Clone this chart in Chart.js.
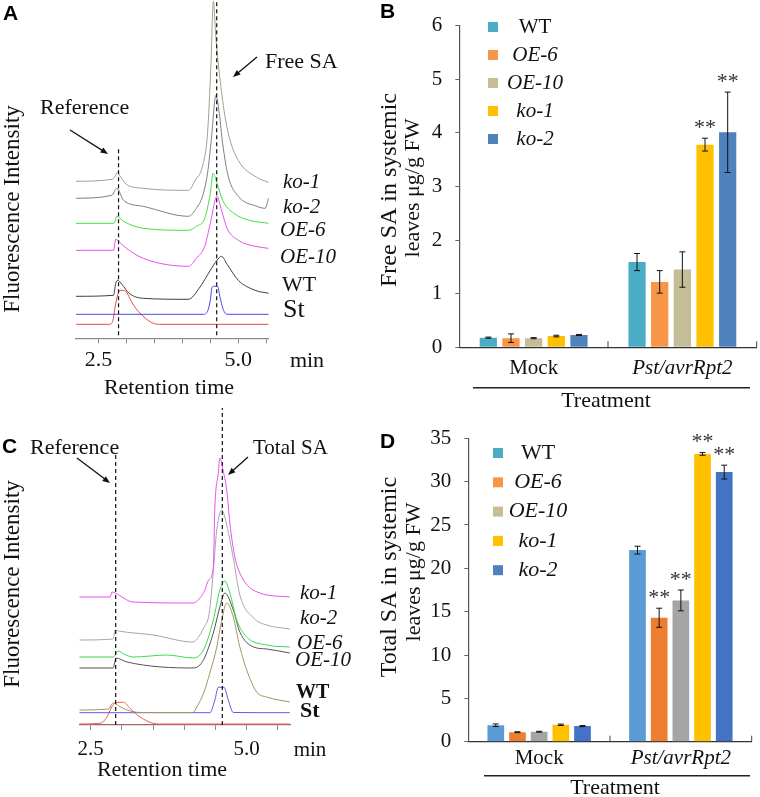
<!DOCTYPE html>
<html>
<head>
<meta charset="utf-8">
<title>SA levels</title>
<script src="https://cdn.jsdelivr.net/npm/chart.js@4.4.1/dist/chart.umd.min.js"></script>
<style>
  html, body { margin: 0; padding: 0; background: #fff; }
  #fig { position: relative; width: 760px; height: 797px; overflow: hidden; }
  canvas { position: absolute; }
</style>
</head>
<body>
<div id="fig">
  <canvas id="cA" width="380" height="400" style="left:0;top:0"></canvas>
  <canvas id="cB" width="380" height="415" style="left:380px;top:0"></canvas>
  <canvas id="cC" width="380" height="397" style="left:0;top:400px"></canvas>
  <canvas id="cD" width="380" height="397" style="left:380px;top:400px"></canvas>
</div>
<script>
// === Dados ===
const genotypes = ['WT', 'OE-6', 'OE-10', 'ko-1', 'ko-2'];
const treatments = ['Mock', 'Pst/avrRpt2'];

// free SA, ug/g FW  [mock, pst]
const freeMean = [[0.18, 1.59], [0.17, 1.22], [0.17, 1.45], [0.21, 3.78], [0.23, 4.01]];
const freeErr  = [[0.01, 0.16], [0.08, 0.21], [0.01, 0.33], [0.015, 0.12], [0.01, 0.75]];
const freeSig  = [['', ''], ['', ''], ['', ''], ['', '**'], ['', '**']];
const freeTicks = [0, 1, 2, 3, 4, 5, 6];

// total SA, ug/g FW  [mock, pst]
const totalMean = [[1.9, 22.1], [1.1, 14.3], [1.15, 16.3], [1.95, 33.2], [1.8, 31.1]];
const totalErr  = [[0.15, 0.45], [0.05, 1.1], [0.05, 1.2], [0.08, 0.15], [0.06, 0.8]];
const totalSig  = [['', ''], ['', '**'], ['', '**'], ['', '**'], ['', '**']];
const totalTicks = [0, 5, 10, 15, 20, 25, 30, 35];

// chromatograms: [retention time (min), signal height]
const timeTicks = [2.5, 3.0, 3.5, 4.0, 4.5, 5.0, 5.5];
const labeledTimes = [2.5, 5.0];

const aKo1 = [[2.10,157],[2.74,159],[2.80,162],[2.84,166],[2.90,161],[3.00,154],[3.30,150],[4.11,148],[4.23,158],[4.36,172],[4.45,205],[4.51,272],[4.555,337],[4.60,300],[4.72,238],[4.82,205],[5.00,178],[5.33,161],[5.54,156]];
const aKo2 = [[2.10,140],[2.74,143],[2.83,150],[2.95,138],[3.30,132],[4.11,122],[4.25,130],[4.36,142],[4.45,165],[4.52,200],[4.60,243],[4.66,225],[4.72,195],[4.82,162],[5.00,142],[5.33,132],[5.48,130],[5.54,140]];
const aOE6 = [[2.10,115],[2.78,115],[2.83,122],[2.95,117],[3.30,110],[4.11,108],[4.25,112],[4.40,120],[4.50,145],[4.55,165],[4.62,155],[4.72,138],[4.92,125],[5.20,118],[5.54,115]];
const aOE10 = [[2.10,88],[2.77,88],[2.81,99],[2.90,95],[3.00,90],[3.30,80],[4.11,72],[4.25,80],[4.40,92],[4.50,115],[4.62,142],[4.70,128],[4.80,110],[5.00,98],[5.30,92],[5.54,90]];
const aWT = [[2.10,42],[2.77,43],[2.81,55],[2.84,58],[2.92,54],[3.05,45],[3.30,40],[4.11,39],[4.30,50],[4.50,68],[4.62,78],[4.70,82],[4.80,74],[5.00,58],[5.30,48],[5.54,45]];
const aSt = [[2.10,24],[4.37,24],[4.45,27],[4.50,38],[4.53,51],[4.56,52],[4.63,52],[4.67,42],[4.73,29],[4.80,24],[5.54,24]];
const aRef = [[2.10,14],[2.70,14],[2.76,18],[2.81,35],[2.86,46],[2.90,48],[2.99,47],[3.06,40],[3.13,33],[3.30,22],[3.48,15],[3.60,14],[5.54,14]];
const aMarks = [[2.86, 3, 191], [4.614, 3, 338]];

const cKo1 = [[2.32,128],[2.81,128],[2.84,133],[2.89,132],[3.18,123],[4.14,122],[4.25,127],[4.33,135],[4.39,145],[4.465,158],[4.49,218],[4.545,252],[4.57,267],[4.62,255],[4.68,235],[4.73,202],[4.81,168],[4.95,145],[5.21,132],[5.69,128]];
const cKo2 = [[2.32,85],[2.86,86],[2.89,95],[2.95,94],[3.50,90],[4.14,83],[4.25,90],[4.31,97],[4.40,112],[4.46,150],[4.52,195],[4.60,215],[4.68,200],[4.79,165],[4.89,130],[5.11,107],[5.32,100],[5.69,96]];
const cOE6 = [[2.32,68],[2.86,68],[2.94,74],[3.03,71],[3.18,68],[3.72,70],[4.14,67],[4.25,70],[4.33,78],[4.465,105],[4.57,135],[4.65,144],[4.73,132],[4.84,105],[5.00,88],[5.32,80],[5.69,78]];
const cOE10 = [[2.32,57],[2.86,57],[2.905,67],[3.08,63],[4.14,57],[4.25,60],[4.33,68],[4.465,92],[4.57,118],[4.65,132],[4.785,115],[4.89,93],[5.11,78],[5.32,76],[5.69,72]];
const cWT = [[2.32,15],[2.78,16],[2.86,22],[2.95,19],[3.08,15],[3.30,12.5],[4.14,12.5],[4.20,18],[4.31,32],[4.41,52],[4.52,78],[4.60,105],[4.68,122],[4.785,108],[4.89,78],[5.00,55],[5.16,33],[5.32,28],[5.69,23]];
const cSt = [[2.32,12.3],[4.41,12.3],[4.49,25],[4.545,37.7],[4.636,37.7],[4.705,25],[4.785,12.5],[5.69,12.3]];
const cRef = [[2.32,1],[2.65,1.7],[2.76,8],[2.836,18],[2.89,22],[2.98,22.7],[3.03,22.7],[3.13,16.7],[3.29,8],[3.50,1.7],[3.60,1],[5.69,1]];
const cMarks = [[2.90, 0, 272], [4.609, 0, 317]];

// === Estilos ===
const serif = "'Liberation Serif', 'Times New Roman', serif";
const sans = "'Liberation Sans', Arial, sans-serif";
const aColors = ['#a3a08c', '#7e7e7e', '#45dc45', '#e452e4', '#3e3e3e', '#4848e8', '#e84848'];
const cColors = ['#ec50ec', '#a6a6a6', '#3ed84a', '#545454', '#a8945c', '#5a5aee', '#ec5a5a'];
const legendColors = ['#4bacc6', '#f79646', '#c4bd97', '#ffc000', '#4f81bd'];
const freeColors = ['#4bacc6', '#f79646', '#c4bd97', '#ffc000', '#4f81bd'];
const totalColors = ['#5b9bd5', '#ed7d31', '#a5a5a5', '#ffc000', '#4472c4'];

// === Desenho auxiliar ===
function drawText(ctx, t) {
  ctx.save();
  ctx.font = (t.style || 'normal') + ' ' + (t.weight || 'normal') + ' ' + t.size + 'px ' + (t.family || serif);
  ctx.fillStyle = t.color || '#111';
  ctx.textAlign = t.align || 'left';
  ctx.textBaseline = t.base || 'middle';
  ctx.translate(t.x, t.y);
  if (t.rot) ctx.rotate(t.rot);
  ctx.fillText(t.text, 0, 0);
  ctx.restore();
}

function drawArrow(ctx, a) {
  const [x1, y1, x2, y2] = a;
  const ang = Math.atan2(y2 - y1, x2 - x1), h = 8;
  ctx.save();
  ctx.strokeStyle = '#111';
  ctx.fillStyle = '#111';
  ctx.lineWidth = 1.3;
  ctx.beginPath();
  ctx.moveTo(x1, y1);
  ctx.lineTo(x2 - Math.cos(ang) * 4, y2 - Math.sin(ang) * 4);
  ctx.stroke();
  ctx.beginPath();
  ctx.moveTo(x2, y2);
  ctx.lineTo(x2 - h * Math.cos(ang - 0.38), y2 - h * Math.sin(ang - 0.38));
  ctx.lineTo(x2 - h * Math.cos(ang + 0.38), y2 - h * Math.sin(ang + 0.38));
  ctx.closePath();
  ctx.fill();
  ctx.restore();
}

function makeOverlay(spec) {
  return {
    id: 'overlay',
    afterDraw(chart) {
      const ctx = chart.ctx;
      (spec.lines || []).forEach(l => {
        ctx.save();
        ctx.strokeStyle = '#222';
        ctx.lineWidth = 1.5;
        ctx.beginPath();
        ctx.moveTo(l[0], l[1]);
        ctx.lineTo(l[2], l[3]);
        ctx.stroke();
        ctx.restore();
      });
      (spec.arrows || []).forEach(a => drawArrow(ctx, a));
      (spec.texts || []).forEach(t => drawText(ctx, t));
      if (spec.legend) {
        const lg = spec.legend;
        genotypes.forEach((g, i) => {
          const y = lg.y0 + lg.dy * i;
          ctx.fillStyle = legendColors[i];
          ctx.fillRect(lg.sqX - 5, y - 5, 10, 10);
          drawText(ctx, { text: g, x: lg.textX, y: y, size: lg.size, align: 'center', style: g === 'WT' ? 'normal' : 'italic' });
        });
      }
    }
  };
}

// barras de erro, asteriscos e marcas do eixo x
const barExtras = {
  id: 'barExtras',
  afterDatasetsDraw(chart) {
    const ctx = chart.ctx, xs = chart.scales.x, ys = chart.scales.y;
    ctx.save();
    ctx.strokeStyle = '#111';
    ctx.lineWidth = 1;
    chart.data.datasets.forEach((ds, di) => {
      chart.getDatasetMeta(di).data.forEach((bar, i) => {
        const v = ds.data[i], e = ds.err[i];
        const yTop = ys.getPixelForValue(v + e), yBot = ys.getPixelForValue(v - e);
        ctx.beginPath();
        ctx.moveTo(bar.x, yTop); ctx.lineTo(bar.x, yBot);
        ctx.moveTo(bar.x - 3, yTop); ctx.lineTo(bar.x + 3, yTop);
        ctx.moveTo(bar.x - 3, yBot); ctx.lineTo(bar.x + 3, yBot);
        ctx.stroke();
        if (ds.sig[i]) {
          drawText(ctx, { text: ds.sig[i], x: bar.x, y: yTop - 4.5, size: 22, align: 'center', base: 'alphabetic', color: '#333' });
        }
      });
    });
    const yb = chart.chartArea.bottom;
    [0.5, 1.5].forEach(v => {
      const x = xs.getPixelForValue(v);
      ctx.strokeStyle = '#444';
      ctx.beginPath();
      ctx.moveTo(x, yb); ctx.lineTo(x, yb - 6);
      ctx.stroke();
    });
    ctx.restore();
  }
};

// === Cromatogramas ===
function traceSet(pts, color) {
  return {
    data: pts.map(p => ({ x: p[0], y: p[1] })),
    borderColor: color, borderWidth: 1, pointRadius: 0, showLine: true,
    fill: false, cubicInterpolationMode: 'monotone', clip: false
  };
}

function markSet(m) {
  return {
    data: [{ x: m[0], y: m[1] }, { x: m[0], y: m[2] }],
    borderColor: '#111', borderWidth: 1.2, borderDash: [4, 3],
    pointRadius: 0, showLine: true, clip: false
  };
}

function chromConfig(o) {
  return {
    type: 'scatter',
    data: { datasets: o.marks.map(markSet).concat(o.traces.map((t, i) => traceSet(t, o.colors[i]))) },
    options: {
      responsive: false, animation: false, events: [],
      layout: { padding: { left: o.left, right: o.right, top: 0, bottom: 0 } },
      plugins: { legend: { display: false }, tooltip: { enabled: false } },
      scales: {
        x: {
          type: 'linear', min: o.xMin, max: o.xMax,
          afterBuildTicks: s => { s.ticks = timeTicks.map(v => ({ value: v })); },
          afterFit: s => { s.height = o.xHeight; },
          ticks: {
            autoSkip: false, maxRotation: 0, padding: o.tickPad, color: '#111',
            font: { family: serif, size: o.tickSize },
            callback: v => labeledTimes.includes(v) ? v.toFixed(1) : ''
          },
          grid: { drawOnChartArea: false, tickLength: 5, color: '#8a8a8a' },
          border: { display: true, color: o.axisColor, width: 1.3 }
        },
        y: { display: false, min: 0, max: o.yMax }
      }
    },
    plugins: [makeOverlay(o.overlay)]
  };
}

// === Gráficos de barras ===
function barConfig(o) {
  return {
    type: 'bar',
    data: {
      labels: treatments,
      datasets: genotypes.map((g, i) => ({
        label: g, data: o.mean[i], err: o.err[i], sig: o.sig[i],
        backgroundColor: o.colors[i], borderWidth: 0,
        categoryPercentage: o.catPct, barPercentage: o.barPct
      }))
    },
    options: {
      responsive: false, animation: false, events: [],
      layout: { padding: { left: 0, right: o.right, top: o.top, bottom: 0 } },
      plugins: { legend: { display: false }, tooltip: { enabled: false } },
      scales: {
        x: {
          afterFit: s => { s.height = o.xHeight; },
          grid: { display: false, drawTicks: false },
          border: { display: true, color: '#333', width: 1.2 },
          ticks: {
            padding: o.catPad, color: '#111',
            font: c => ({ family: serif, size: 21, style: c.index === 1 ? 'italic' : 'normal' })
          }
        },
        y: {
          min: 0, max: o.yMax,
          afterBuildTicks: s => { s.ticks = o.ticks.map(v => ({ value: v })); },
          afterFit: s => { s.width = o.yWidth; },
          grid: { drawOnChartArea: false, tickLength: 4, color: '#666' },
          border: { display: true, color: '#555', width: 1.2 },
          ticks: { padding: 13, color: '#111', font: { family: serif, size: 21 } }
        }
      }
    },
    plugins: [barExtras, makeOverlay(o.overlay)]
  };
}

const rot = -Math.PI / 2;

new Chart(document.getElementById('cA'), chromConfig({
  traces: [aKo1, aKo2, aOE6, aOE10, aWT, aSt, aRef], colors: aColors, marks: aMarks,
  left: 76, right: 111.7, xHeight: 61.7, xMin: 2.10, xMax: 5.536, yMax: 338.3,
  tickPad: 4, tickSize: 22, axisColor: '#8a8a8a',
  overlay: {
    arrows: [[70, 130, 108, 154], [257, 57, 233, 77]],
    texts: [
      { text: 'A', x: 3, y: 20, size: 21, weight: 'bold', family: sans, base: 'alphabetic', color: '#000' },
      { text: 'Free SA', x: 265, y: 62, size: 22 },
      { text: 'Reference', x: 40, y: 108, size: 22 },
      { text: 'ko-1', x: 283, y: 182, size: 21, style: 'italic' },
      { text: 'ko-2', x: 283, y: 207, size: 21, style: 'italic' },
      { text: 'OE-6', x: 280, y: 230, size: 21, style: 'italic' },
      { text: 'OE-10', x: 280, y: 257, size: 21, style: 'italic' },
      { text: 'WT', x: 282, y: 285, size: 22 },
      { text: 'St', x: 283, y: 310, size: 26 },
      { text: 'min', x: 307, y: 361, size: 22, align: 'center' },
      { text: 'Retention time', x: 169, y: 388, size: 22, align: 'center' },
      { text: 'Fluorescence Intensity', x: 13, y: 209, size: 23, align: 'center', rot: rot }
    ]
  }
}));

new Chart(document.getElementById('cC'), chromConfig({
  traces: [cKo1, cKo2, cOE6, cOE10, cWT, cSt, cRef], colors: cColors, marks: cMarks,
  left: 79.3, right: 90, xHeight: 72, xMin: 2.317, xMax: 5.694, yMax: 325,
  tickPad: 7, tickSize: 21, axisColor: '#9c6a62',
  overlay: {
    arrows: [[77, 58, 110, 83], [248, 57, 228, 75]],
    texts: [
      { text: 'C', x: 2, y: 53, size: 21, weight: 'bold', family: sans, base: 'alphabetic', color: '#000' },
      { text: 'Reference', x: 30, y: 48, size: 22 },
      { text: 'Total SA', x: 253, y: 48, size: 21 },
      { text: 'ko-1', x: 300, y: 193, size: 21, style: 'italic' },
      { text: 'ko-2', x: 300, y: 218, size: 21, style: 'italic' },
      { text: 'OE-6', x: 297, y: 243, size: 21, style: 'italic' },
      { text: 'OE-10', x: 295, y: 260, size: 21, style: 'italic' },
      { text: 'WT', x: 296, y: 293, size: 20, weight: 'bold' },
      { text: 'St', x: 300, y: 311, size: 22, weight: 'bold' },
      { text: 'min', x: 310, y: 350, size: 21, align: 'center' },
      { text: 'Retention time', x: 162, y: 370, size: 22, align: 'center' },
      { text: 'Fluorescence Intensity', x: 13, y: 184, size: 23, align: 'center', rot: rot }
    ]
  }
}));

new Chart(document.getElementById('cB'), barConfig({
  mean: freeMean, err: freeErr, sig: freeSig, colors: freeColors, ticks: freeTicks, yMax: 6,
  catPct: 0.762, barPct: 0.76, right: 3.3, top: 19, xHeight: 67.7, yWidth: 79.3, catPad: 9,
  overlay: {
    lines: [[93, 387.7, 370, 387.7]],
    legend: { sqX: 113, textX: 155, y0: 27, dy: 28, size: 21 },
    texts: [
      { text: 'B', x: 0, y: 18, size: 21, weight: 'bold', family: sans, base: 'alphabetic', color: '#000' },
      { text: 'Free SA in systemic', x: 10, y: 190, size: 24, align: 'center', rot: rot },
      { text: 'leaves \u03bcg/g FW', x: 33, y: 188, size: 22, align: 'center', rot: rot },
      { text: 'Treatment', x: 226, y: 401, size: 22, align: 'center' }
    ]
  }
}));

new Chart(document.getElementById('cD'), barConfig({
  mean: totalMean, err: totalErr, sig: totalSig, colors: totalColors, ticks: totalTicks, yMax: 35,
  catPct: 0.765, barPct: 0.77, right: 8.3, top: 38.3, xHeight: 55.3, yWidth: 88.3, catPad: 4,
  overlay: {
    lines: [[104, 375.7, 370, 375.7]],
    legend: { sqX: 118, textX: 158, y0: 53, dy: 29.3, size: 22 },
    texts: [
      { text: 'D', x: 0, y: 48, size: 21, weight: 'bold', family: sans, base: 'alphabetic', color: '#000' },
      { text: 'Total SA in systemic', x: 10, y: 177, size: 24, align: 'center', rot: rot },
      { text: 'leaves \u03bcg/g FW', x: 34, y: 172, size: 22, align: 'center', rot: rot },
      { text: 'Treatment', x: 235, y: 388, size: 22, align: 'center' }
    ]
  }
}));
</script>
</body>
</html>
